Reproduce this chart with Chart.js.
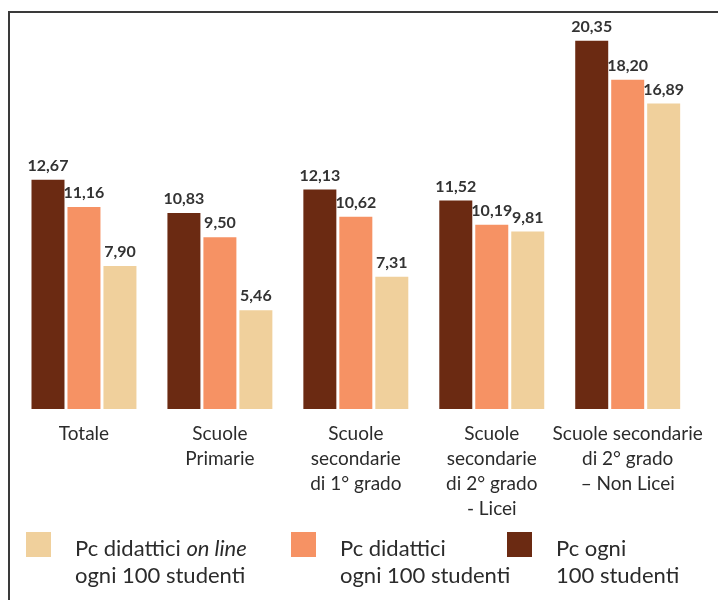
<!DOCTYPE html>
<html>
<head>
<meta charset="utf-8">
<script src="https://cdn.jsdelivr.net/npm/chart.js@4"></script>
<style>
    body { margin: 0; background: #fff; }
    #wrap { position: relative; width: 718px; height: 600px; overflow: hidden; font-family: Lato, sans-serif; }
    #frame { position: absolute; left: 8px; top: 11px; width: 720px; height: 600px; border-top: 2px solid #3a3a3a; border-left: 2px solid #3a3a3a; }
    canvas { position: absolute; left: 0; top: 0; }
    .item { position: absolute; top: 532px; }
    .box { position: absolute; top: 0; width: 25px; height: 25px; }
    .txt { position: absolute; top: 2px; font-size: 22px; line-height: 27px; color: #2b2b2b; white-space: nowrap; }
</style>
</head>
<body>
<div id="wrap">
    <div id="frame"></div>
    <canvas id="chart" width="718" height="600"></canvas>
    <div id="legend"></div>
</div>
<script>

const categories = [
    'Totale',
    ['Scuole', 'Primarie'],
    ['Scuole', 'secondarie', 'di 1° grado'],
    ['Scuole', 'secondarie', 'di 2° grado', '- Licei'],
    ['Scuole secondarie', 'di 2° grado', '– Non Licei']
]

const pcOgni100 = [12.67, 10.83, 12.13, 11.52, 20.35]
const pcDidattici = [11.16, 9.50, 10.62, 10.19, 18.20]
const pcOnLine = [7.90, 5.46, 7.31, 9.81, 16.89]

const seriesNames = ['Pc ogni<br>100 studenti', 'Pc didattici<br>ogni 100 studenti', 'Pc didattici <i>on line</i><br>ogni 100 studenti']
const colors = ['#6b2a12', '#f69264', '#f0d09c']

const fmt = v => v.toFixed(2).replace('.', ',')


// etichette sopra le barre
const valueLabels = {
    id: 'valueLabels',
    afterDatasetsDraw(chart) {
        const { ctx } = chart
        ctx.save()
        ctx.font = 'bold 16px Lato'
        ctx.fillStyle = '#333'
        ctx.textAlign = 'center'
        ctx.textBaseline = 'bottom'
        chart.data.datasets.forEach((ds, i) => {
            chart.getDatasetMeta(i).data.forEach((bar, j) => {
                ctx.fillText(fmt(ds.data[j]), bar.x, bar.y - 6)
            })
        })
        ctx.restore()
    }
}


const drawChart = () => {

    const data = {
        labels: categories,
        datasets: [pcOgni100, pcDidattici, pcOnLine].map((values, i) => ({
            data: values,
            backgroundColor: colors[i],
            borderWidth: 0,
            categoryPercentage: 0.794,
            barPercentage: 0.917
        }))
    }

    const options = {
        responsive: false,
        animation: false,
        layout: {
            padding: { left: 16, right: 22, top: 11, bottom: 0 }
        },
        plugins: {
            legend: { display: false },
            tooltip: { enabled: false }
        },
        scales: {
            x: {
                grid: { display: false, drawTicks: false },
                border: { display: false },
                ticks: {
                    color: '#2b2b2b',
                    padding: 13,
                    maxRotation: 0,
                    autoSkip: false,
                    font: { family: 'Lato', size: 19, lineHeight: 1.3 }
                },
                afterFit: scale => { scale.height = 191 }
            },
            y: {
                display: false,
                min: 0,
                max: 22
            }
        }
    }

    new Chart('chart', {
        type: 'bar',
        data,
        options,
        plugins: [valueLabels]
    })
}


// legenda in html (serve il corsivo)
const drawLegend = () => {
    const pos = [[507, 556], [291, 340], [26, 75]]
    const legend = document.getElementById('legend')
    ;[2, 1, 0].forEach(i => {
        legend.innerHTML += `<div class="item" style="left:${pos[i][0]}px">
            <div class="box" style="background:${colors[i]}"></div>
            <div class="txt" style="left:${pos[i][1] - pos[i][0]}px">${seriesNames[i]}</div>
        </div>`
    })
}


drawChart()
drawLegend()
</script>
</body>
</html>
